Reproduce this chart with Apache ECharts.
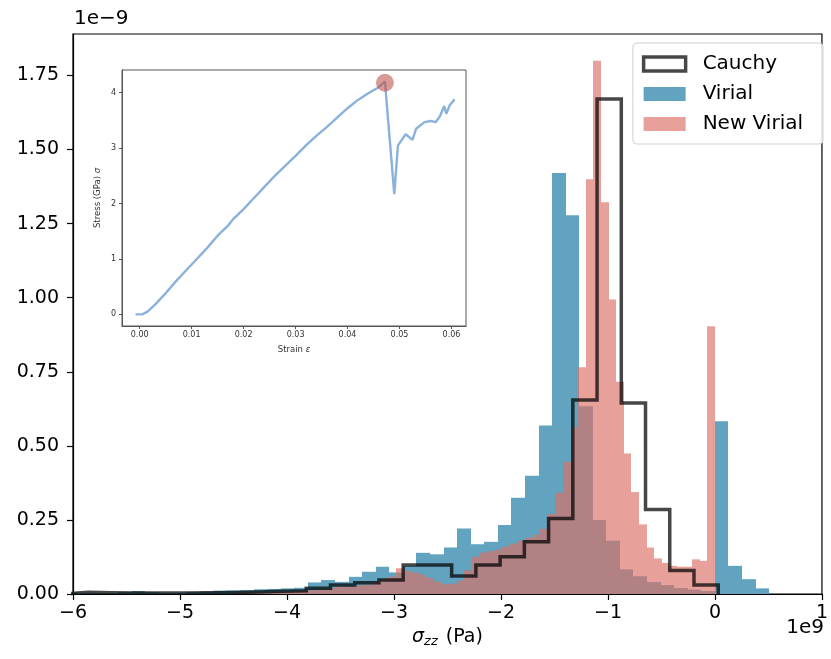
<!DOCTYPE html>
<html>
<head>
<meta charset="utf-8">
<script src="https://cdn.jsdelivr.net/npm/echarts@6/dist/echarts.min.js"></script>
<style>
  html, body { margin: 0; padding: 0; background: #fff; }
  #chart { width: 831px; height: 659px; }
</style>
</head>
<body>
<div id="chart"></div>
<script>
// histogram bins: x in units of 1e9 Pa, heights in units of 1e-9
var cauchyStart = -6.085;
var cauchyWidth = 0.2265;
var cauchyHeights = [0.006, 0.004, 0.003, 0.003, 0.003, 0.004, 0.005, 0.007, 0.009, 0.011,
  0.019, 0.03, 0.038, 0.047, 0.098, 0.098, 0.061, 0.098, 0.126, 0.176,
  0.255, 0.655, 1.671, 0.645, 0.285, 0.079, 0.030];

var virialStart = -6.087;
var virialWidth = 0.1268;
var virialHeights = [0.006, 0.004, 0.003, 0.002, 0.006, 0.01, 0.006, 0.004, 0.004, 0.006,
  0.008, 0.011, 0.012, 0.013, 0.016, 0.017, 0.019, 0.021, 0.039, 0.047,
  0.041, 0.058, 0.075, 0.092, 0.073, 0.095, 0.139, 0.134, 0.157, 0.221,
  0.168, 0.176, 0.233, 0.325, 0.399, 0.569, 1.421, 1.278, 0.634, 0.25,
  0.18, 0.083, 0.06, 0.04, 0.03, 0.02, 0.015, 0.01, 0.583, 0.095,
  0.05, 0.019];

var newVirialStart = -4.473;
var newVirialWidth = 0.071;
var newVirialHeights = [0.004, 0.004, 0.005, 0.005, 0.006, 0.006, 0.007, 0.008, 0.01, 0.012,
  0.013, 0.014, 0.02, 0.024, 0.025, 0.026, 0.03, 0.032, 0.041, 0.05,
  0.058, 0.087, 0.078, 0.072, 0.065, 0.055, 0.042, 0.033, 0.035, 0.045,
  0.08, 0.125, 0.14, 0.145, 0.15, 0.16, 0.17, 0.18, 0.19, 0.2,
  0.22, 0.27, 0.342, 0.446, 0.563, 0.765, 1.40, 1.80, 1.322, 0.994,
  0.716, 0.474, 0.344, 0.235, 0.157, 0.12, 0.105, 0.095, 0.092, 0.092,
  0.117, 0.112, 0.904];

// inset stress-strain curve
var strain = [-0.0008, 0.0005, 0.0015, 0.003, 0.005, 0.007, 0.009, 0.011, 0.013, 0.015,
  0.017, 0.018, 0.02, 0.022, 0.024, 0.026, 0.028, 0.03, 0.032, 0.034,
  0.036, 0.038, 0.04, 0.042, 0.044, 0.046, 0.0472, 0.049, 0.0497, 0.0512,
  0.0525, 0.0532, 0.0548, 0.056, 0.057, 0.0578, 0.0586, 0.059, 0.0597, 0.0606];
var stress = [0, 0, 0.05, 0.18, 0.38, 0.6, 0.8, 1.0, 1.2, 1.42,
  1.6, 1.72, 1.9, 2.1, 2.3, 2.5, 2.68, 2.86, 3.05, 3.22,
  3.38, 3.55, 3.72, 3.87, 3.99, 4.1, 4.2, 2.17, 3.05, 3.25,
  3.15, 3.35, 3.47, 3.49, 3.47, 3.58, 3.76, 3.62, 3.78, 3.88];
var peakStrain = [0.0472];
var peakStress = [4.18];

var xTicks = [-6, -5, -4, -3, -2, -1, 0, 1];
var yTicks = [0, 0.25, 0.5, 0.75, 1.0, 1.25, 1.5, 1.75];
var insetXTicks = [0, 0.01, 0.02, 0.03, 0.04, 0.05, 0.06];
var insetYTicks = [0, 1, 2, 3, 4];

var FONT = 'DejaVu Sans';

function binRows(start, width, heights) {
  return heights.map(function (h, i) {
    return [start + i * width, start + (i + 1) * width, h];
  });
}

function stepPoints(start, width, heights) {
  var pts = [[start, 0]];
  heights.forEach(function (h, i) {
    pts.push([start + i * width, h]);
    pts.push([start + (i + 1) * width, h]);
  });
  pts.push([start + heights.length * width, 0]);
  return pts;
}

function renderBar(params, api) {
  var p0 = api.coord([api.value(0), api.value(2)]);
  var p1 = api.coord([api.value(1), 0]);
  var x0 = Math.round(p0[0]), x1 = Math.round(p1[0]);
  return {
    type: 'rect',
    shape: { x: x0, y: p0[1], width: x1 - x0, height: p1[1] - p0[1] },
    style: api.style()
  };
}

var blue = '#62a3bf';
var pink = 'rgba(220,110,100,0.65)';
var cauchyColor = 'rgba(0,0,0,0.72)';

var chart = echarts.init(document.getElementById('chart'));
var option = {
  animation: false,
  backgroundColor: '#fff',
  textStyle: { fontFamily: FONT },
  grid: [
    { left: 73, right: 7, top: 34, bottom: 65, show: true, borderColor: '#000', borderWidth: 1.2 },
    { left: 122, top: 70, width: 344, height: 256, show: true, borderColor: '#555', borderWidth: 1, backgroundColor: '#fff' }
  ],
  xAxis: [
    {
      type: 'value', gridIndex: 0, min: -6, max: 1, interval: 1,
      axisLine: { onZero: false, lineStyle: { color: '#000', width: 1.2 } },
      axisTick: { inside: false, length: 6, lineStyle: { color: '#000', width: 1.2 } },
      axisLabel: {
        color: '#000', fontSize: 19, fontFamily: FONT, margin: 10,
        formatter: function (v) { return String(v).replace('-', '\u2212'); }
      },
      splitLine: { show: false },
      name: '{s|\u03c3}{sub|zz} (Pa)',
      nameLocation: 'middle', nameGap: 33,
      nameTextStyle: {
        color: '#000', fontSize: 19, fontFamily: FONT,
        rich: {
          s: { fontSize: 19, fontStyle: 'italic', fontFamily: FONT, color: '#000' },
          sub: { fontSize: 13, fontStyle: 'italic', fontFamily: FONT, color: '#000', verticalAlign: 'bottom', padding: [8, 2, 0, 0] }
        }
      }
    },
    {
      type: 'value', gridIndex: 1, min: -0.0034, max: 0.0628,
      axisLine: { onZero: false, lineStyle: { color: '#555' } },
      axisTick: { length: 3, customValues: insetXTicks, lineStyle: { color: '#555' } },
      axisLabel: {
        customValues: insetXTicks, color: '#333', fontSize: 8, fontFamily: FONT, margin: 5,
        formatter: function (v) { return v.toFixed(2); }
      },
      splitLine: { show: false },
      name: 'Strain {e|\u03b5}', nameLocation: 'middle', nameGap: 19,
      nameTextStyle: { color: '#333', fontSize: 8.5, fontFamily: FONT, rich: { e: { fontStyle: 'italic', fontSize: 8.5, color: '#333' } } }
    }
  ],
  yAxis: [
    {
      type: 'value', gridIndex: 0, min: 0, max: 1.89,
      axisLine: { show: true, onZero: false, lineStyle: { color: '#000', width: 1.2 } },
      axisTick: { show: true, inside: false, length: 6, customValues: yTicks, lineStyle: { color: '#000', width: 1.2 } },
      axisLabel: {
        customValues: yTicks, color: '#000', fontSize: 19, fontFamily: FONT, margin: 14,
        formatter: function (v) { return v.toFixed(2); }
      },
      splitLine: { show: false }
    },
    {
      type: 'value', gridIndex: 1, min: -0.21, max: 4.41,
      axisLine: { show: true, onZero: false, lineStyle: { color: '#555' } },
      axisTick: { show: true, length: 3, customValues: insetYTicks, lineStyle: { color: '#555' } },
      axisLabel: { customValues: insetYTicks, color: '#333', fontSize: 8, fontFamily: FONT, margin: 6 },
      splitLine: { show: false },
      name: 'Stress (GPa) {e|\u03c3}', nameLocation: 'middle', nameGap: 20, nameRotate: 90,
      nameTextStyle: { color: '#333', fontSize: 8.5, fontFamily: FONT, rich: { e: { fontStyle: 'italic', fontSize: 8.5, color: '#333' } } }
    }
  ],
  legend: {
    orient: 'vertical', right: 8, top: 43,
    backgroundColor: 'rgba(255,255,255,0.85)', borderColor: '#d0d0d0', borderWidth: 1, borderRadius: 4,
    padding: [11, 20, 10, 9], itemWidth: 42, itemHeight: 14, itemGap: 10,
    textStyle: { fontSize: 20, fontFamily: FONT, color: '#000', padding: [0, 0, 0, 12] },
    data: [
      { name: 'Cauchy', icon: 'rect', itemStyle: { color: '#fff', borderColor: 'rgba(0,0,0,0.72)', borderWidth: 3.5 } },
      { name: 'Virial', icon: 'rect' },
      { name: 'New Virial', icon: 'rect' }
    ]
  },
  graphic: [
    { type: 'text', left: 74, top: 9, style: { text: '1e\u22129', font: '20px "DejaVu Sans"', fill: '#000' } },
    { type: 'text', right: 7, top: 618, style: { text: '1e9', font: '20px "DejaVu Sans"', fill: '#000' } }
  ],
  series: [
    {
      name: 'Virial', type: 'custom', xAxisIndex: 0, yAxisIndex: 0, clip: true, z: 2,
      renderItem: renderBar, encode: { x: [0, 1], y: 2 },
      itemStyle: { color: blue },
      data: binRows(virialStart, virialWidth, virialHeights)
    },
    {
      name: 'New Virial', type: 'custom', xAxisIndex: 0, yAxisIndex: 0, clip: true, z: 3,
      renderItem: renderBar, encode: { x: [0, 1], y: 2 },
      itemStyle: { color: pink },
      data: binRows(newVirialStart, newVirialWidth, newVirialHeights)
    },
    {
      name: 'Cauchy', type: 'line', xAxisIndex: 0, yAxisIndex: 0, clip: true, z: 4,
      symbol: 'none', lineStyle: { color: cauchyColor, width: 3.5, join: 'miter' },
      itemStyle: { color: cauchyColor },
      data: stepPoints(cauchyStart, cauchyWidth, cauchyHeights)
    },
    {
      name: 'curve', type: 'line', xAxisIndex: 1, yAxisIndex: 1, z: 10,
      symbol: 'none', lineStyle: { color: '#8ab2da', width: 2.4 },
      data: strain.map(function (s, i) { return [s, stress[i]]; })
    },
    {
      name: 'peak', type: 'scatter', xAxisIndex: 1, yAxisIndex: 1, z: 11,
      symbolSize: 18, itemStyle: { color: 'rgba(190,80,70,0.72)' },
      data: peakStrain.map(function (s, i) { return [s, peakStress[i]]; })
    }
  ]
};
chart.setOption(option);
</script>
</body>
</html>
